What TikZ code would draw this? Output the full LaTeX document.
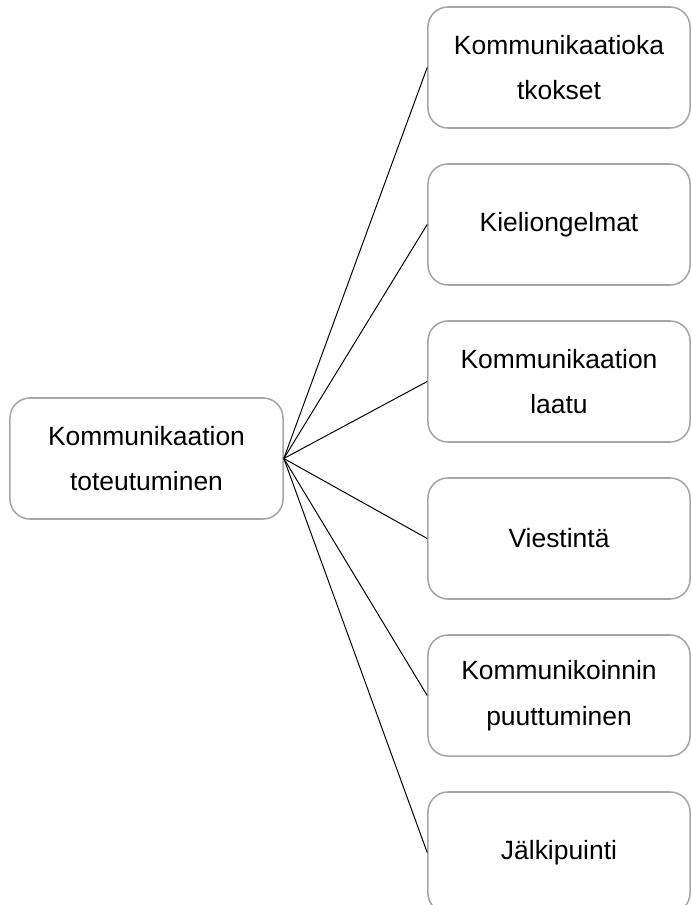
\documentclass[tikz,border=0pt]{standalone}
\usepackage{fontspec}
\setmainfont{Liberation Sans}
\usepackage{tikz}
\usetikzlibrary{positioning}
\usepackage{xcolor}
\definecolor{boxgray}{RGB}{166, 166, 166}

\tikzset{
  topicbox/.style={draw=boxgray, line width=1.1pt, rounded corners=0.5cm,
    align=center, inner sep=0pt, font=\fontsize{18.8}{32.6}\selectfont},
  link/.style={draw=black, line width=0.7pt}
}

\begin{document}
\begin{tikzpicture}[x=0.025cm, y=-0.025cm]
  \useasboundingbox (0,0) rectangle (691,905);

  % Main topic on the left
  \node[topicbox, minimum width=6.825cm, minimum height=3.025cm] (main)
    at (146.5, 458.5) {Kommunikaation\\toteutuminen};

  % Sub topics on the right
  \foreach \i/\txt in {1/{Kommunikaatioka\\tkokset}, 2/{Kieliongelmat},
      3/{Kommunikaation\\laatu}, 4/{Viestintä},
      5/{Kommunikoinnin\\puuttuminen}, 6/{Jälkipuinti}} {
    \node[topicbox, minimum width=6.55cm, minimum height=3.025cm] (sub\i)
      at (559, {67.5 + (\i-1)*157}) {\txt};
  }

  \foreach \i in {1,...,6} {
    \draw[link] (main.east) -- (sub\i.west);
  }
\end{tikzpicture}
\end{document}
